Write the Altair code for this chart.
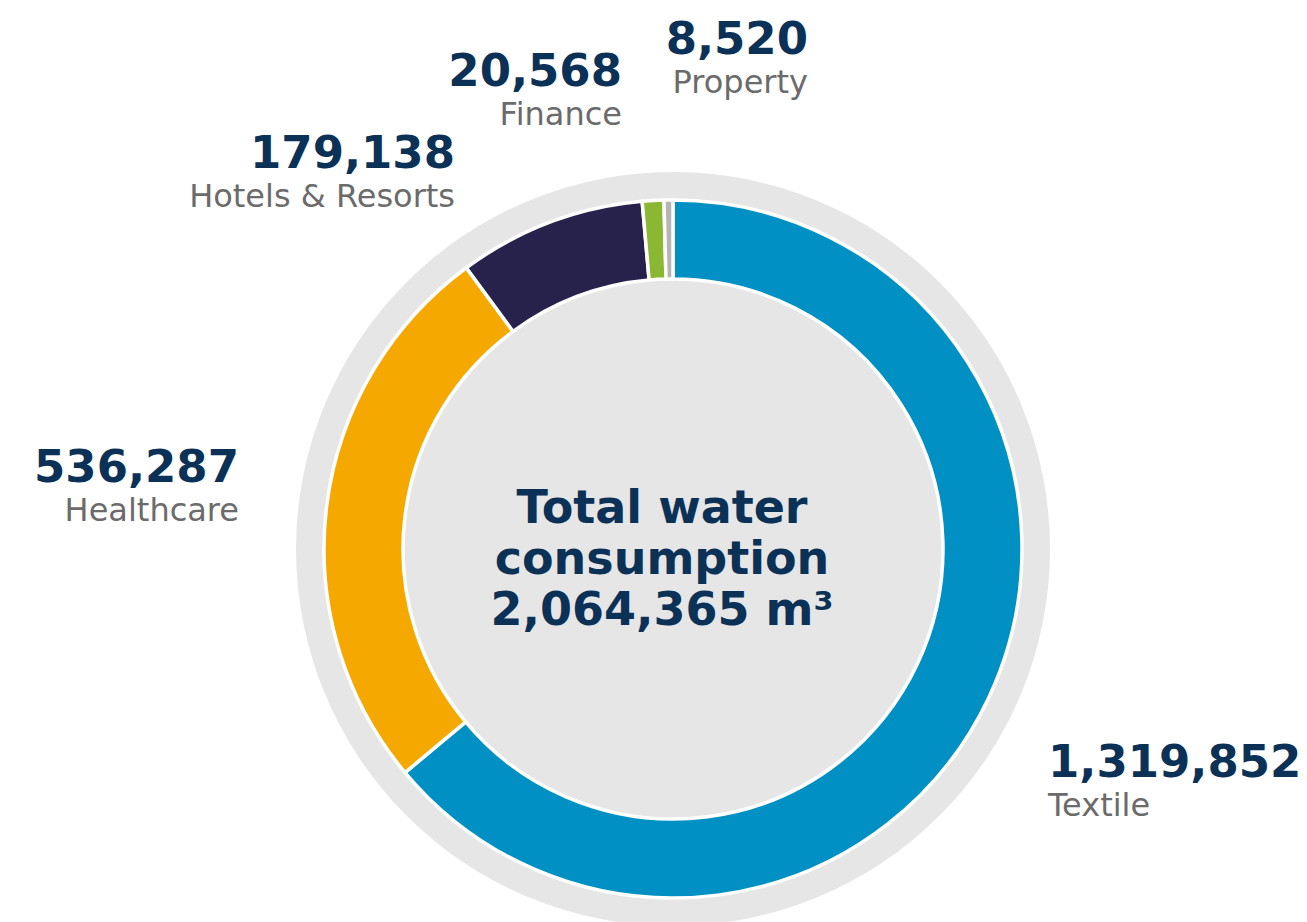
import altair as alt
import pandas as pd

# ---- data ----
categories = ["Textile", "Healthcare", "Hotels & Resorts", "Finance", "Property"]
values = [1319852, 536287, 179138, 20568, 8520]
colors = ["#0090c4", "#f4a800", "#26224c", "#8bb833", "#b5b5b5"]
total_lines = ["Total water", "consumption", "2,064,365 m³"]

# ---- layout (kept separate from data) ----
W, H = 1307, 922
CX, CY = 673, 549
label_pos = {  # x anchor, number baseline, align
    "Textile": (1048, 777, "left"),
    "Healthcare": (239, 482, "right"),
    "Hotels & Resorts": (455, 168, "right"),
    "Finance": (622, 86, "right"),
    "Property": (808, 54, "right"),
}
NUM_COLOR = "#0b3157"
LAB_COLOR = "#6b6b6b"
FONT = "DejaVu Sans"

df = pd.DataFrame({"category": categories, "value": values, "order": list(range(len(values)))})

bg = alt.Chart(pd.DataFrame({"v": [1]})).mark_arc(
    radius=377, color="#e6e6e6"
).encode(theta=alt.value(0), theta2=alt.value(6.2832), x=alt.value(CX), y=alt.value(CY))

ring = alt.Chart(df).mark_arc(
    radius=349, radius2=270, stroke="white", strokeWidth=3.5
).encode(
    theta=alt.Theta("value:Q", stack=True),
    order=alt.Order("order:Q", sort="ascending"),
    color=alt.Color("category:N", scale=alt.Scale(domain=categories, range=colors), legend=None),
    x=alt.value(CX),
    y=alt.value(CY),
)

layers = [bg, ring]

for cat, val in zip(categories, values):
    x, yb, align = label_pos[cat]
    num = alt.Chart(pd.DataFrame({"t": [f"{val:,}"]})).mark_text(
        font=FONT, fontSize=45, fontWeight="bold", color=NUM_COLOR,
        align=align, baseline="alphabetic"
    ).encode(text="t:N", x=alt.value(x), y=alt.value(yb))
    lab = alt.Chart(pd.DataFrame({"t": [cat]})).mark_text(
        font=FONT, fontSize=32, color=LAB_COLOR,
        align=align, baseline="alphabetic"
    ).encode(text="t:N", x=alt.value(x), y=alt.value(yb + 39))
    layers += [num, lab]

for i, line in enumerate(total_lines):
    t = alt.Chart(pd.DataFrame({"t": [line]})).mark_text(
        font=FONT, fontSize=46, fontWeight="bold", color=NUM_COLOR,
        align="center", baseline="alphabetic"
    ).encode(text="t:N", x=alt.value(662), y=alt.value(523 + i * 51))
    layers.append(t)

chart = alt.layer(*layers).properties(
    width=W, height=H, autosize=alt.AutoSizeParams(type="none"), padding=0, background="white"
).configure_view(stroke=None)

chart.save("out.html", embed_options={"renderer": "svg", "actions": False})
